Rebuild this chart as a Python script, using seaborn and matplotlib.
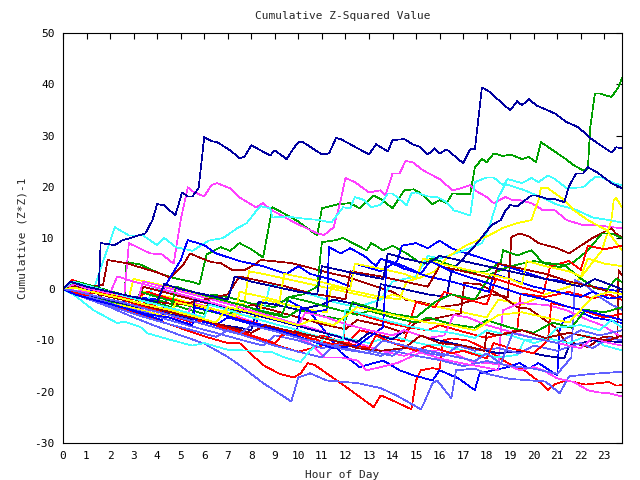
import numpy as np
import pandas as pd
import matplotlib
matplotlib.use("Agg")
import matplotlib.pyplot as plt
import seaborn as sns

# ---- data: (hour, cumulative value) vertices ----
red_1 = [(0,0),(1,-1.5),(2,-3),(3,-4.5),(4,-6),(5,-7.6),(6,-9.2),(7,-10.5),(7.5,-10.5),(8.5,-14.8),(9.2,-16.5),(9.8,-17.2),(10.1,-16.4),(10.4,-14.4),(10.7,-14.8),(12.1,-19.3),(13.2,-23.0),(13.5,-20.7),(14.0,-21.7),(14.8,-23.4),(15.0,-17.8),(15.2,-15.8),(15.7,-15.4),(16.0,-15.6),(16.15,-10.0),(16.5,-9.6),(17.2,-10.0),(17.9,-11.5),(18.9,-14.4),(19.6,-15.8),(20.3,-18.3),(20.6,-19.7),(20.9,-18.5),(21.4,-17.8),(22.2,-18.6),(23.2,-18.1),(23.5,-18.8),(23.75,-18.7)]
red_2 = [(0,0),(0.4,1.8),(1,0.8),(2,-0.5),(3,-1.8),(3.5,-2.5),(4,-3.5),(5,-4.8),(6,-6.3),(7,-7.8),(8,-9.2),(9,-10.8),(10,-12.2),(11,-11.0),(11.9,-10.5),(12.05,-4.1),(13,-5.5),(14,-6.8),(14.8,-7.5),(15.5,-8.0),(16,-7.0),(17,-8.3),(18,-9.5),(19.3,-8.0),(19.45,-0.8),(20.5,-1.5),(21.5,-0.5),(22.5,-1.8),(23.2,-1.0),(23.75,-2.1)]
red_3 = [(0,0),(0.5,1.0),(1,0.2),(2,-1.2),(3,-2.0),(3.6,-0.5),(4.5,-1.8),(5.5,-3.0),(6.5,-4.5),(7.5,-5.8),(8.5,-7.0),(9.5,-8.2),(10.5,-9.5),(11.5,-10.8),(12,-11.0),(12.6,-8.0),(13.5,-9.0),(14.5,-10.2),(14.85,-4.7),(15.0,-2.5),(15.8,-3.5),(16.2,-0.5),(17,-1.8),(18,-3.0),(18.4,2.0),(19.4,0.5),(20.4,-0.8),(20.7,4.5),(21.5,5.5),(22,3.8),(22.3,8.5),(23,7.8),(23.75,8.5)]
red_4 = [(0,0),(1,-1.2),(1.5,-0.5),(2.5,-2.0),(3.5,-3.5),(4.5,-5.0),(5.5,-6.5),(6,-6.0),(7,-7.5),(8,-9.0),(9,-10.5),(9.3,-9.0),(10,-8.0),(10.5,-10),(11,-9),(12,-10.5),(13,-11.5),(13.3,-9),(14,-10.5),(15,-12),(15.5,-11),(16.5,-12.5),(17,-12),(18,-13.5),(18.3,-10.5),(19,-11.5),(20,-12.5),(20.6,-10),(20.75,-2.7),(22,-4),(23,-5.5),(23.75,-4.8)]

green_1 = [(0,0),(1,-1.0),(2,-2.0),(2.6,-2.6),(2.7,5.3),(3.3,4.8),(4.0,3.3),(4.6,2.3),(5.4,1.5),(5.8,1.0),(6.1,6.8),(6.7,8.2),(7.1,7.5),(7.5,9.0),(8.0,7.8),(8.5,6.2),(8.9,16.0),(9.5,14.5),(10.0,13.2),(10.8,10.5),(11.0,15.8),(11.7,16.6),(12.2,16.8),(12.6,15.8),(13.2,18.3),(13.5,17.6),(14.0,15.8),(14.5,19.3),(14.9,19.5),(15.2,18.7),(15.7,16.6),(16.0,17.4),(16.3,16.8),(16.55,18.7),(17.3,18.5),(17.5,23.8),(17.8,25.4),(18.0,24.8),(18.3,26.5),(18.7,26.0),(19.0,26.3),(19.5,25.4),(19.8,25.8),(20.1,24.8),(20.3,28.7),(20.5,28.1),(21.3,25.6),(21.7,24.2),(22.1,23.2),(22.3,23.6),(22.4,31.6),(22.6,38.2),(22.8,38.2),(23.3,37.5),(23.6,39.4),(23.75,41.2)]
green_2 = [(0,0),(0.5,0.8),(1.5,-0.5),(2.5,-1.8),(3.5,-3.0),(4.0,-2.0),(5.0,-3.5),(6.0,-4.8),(6.3,-1.0),(7.0,-1.5),(8.0,-2.8),(9.0,-3.5),(9.6,-1.5),(10.2,-1.0),(10.8,0.5),(11.0,9.2),(11.5,9.5),(11.9,10.0),(12.9,7.6),(13.1,9.0),(13.6,7.6),(14.0,8.5),(14.6,7.0),(15.3,4.7),(15.6,6.0),(16.0,5.5),(16.6,4.5),(17.3,3.3),(18.0,3.5),(18.6,5.3),(18.7,7.6),(19.3,6.6),(19.9,7.6),(20.4,5.1),(21.1,4.3),(21.7,5.3),(22.3,7.6),(22.9,10.9),(23.3,10.9),(23.75,10.0)]
green_3 = [(0,0),(1,-1.2),(2,-2.4),(3,-3.2),(3.3,-0.5),(4,-1.5),(5,-2.8),(6,-4.0),(7,-5.2),(7.6,-3.0),(8.5,-4.5),(9.5,-5.5),(10,-4.0),(11,-5.2),(12,-6.0),(12.3,-2.5),(13,-3.5),(14,-4.8),(15,-5.5),(15.8,-2.5),(16.5,-1.0),(17.5,-2.0),(18.2,3.0),(19.0,4.5),(20,5.5),(21.3,4.7),(22,2.1),(22.6,0.2),(23.1,-0.2),(23.5,2.1),(23.75,1.4)]
green_4 = [(0,0),(0.6,1.5),(1.5,0.3),(2.5,-1.0),(3.5,-2.2),(4.6,-3.5),(4.8,0.5),(5.5,-0.5),(6.5,-1.8),(7.5,-3.0),(8.5,-4.3),(9.3,-5.0),(9.6,-1.5),(10.5,-2.5),(11.5,-3.8),(12.5,-5.0),(13,-4.2),(14,-5.5),(15,-6.5),(15.5,-5.5),(16.5,-6.8),(17.5,-7.5),(18,-6),(19,-7.5),(20,-8.5),(20.8,-6.5),(21.6,-7.5),(22.2,-4.0),(23,-4.5),(23.75,-3.5)]

blue_1 = [(0,0),(0.5,-0.8),(1.5,-2.0),(2.5,-3.5),(3.5,-5.0),(4.2,-6.0),(4.4,-1.5),(5.5,-3.0),(6.5,-4.5),(7.5,-6.0),(8.2,-7.0),(8.4,-2.5),(9.0,-3.0),(9.5,-2.0),(10.5,-4.5),(11.1,-8.0),(11.8,-12.3),(12.6,-15.2),(13.6,-13.9),(14.3,-15.8),(14.9,-16.8),(15.7,-17.8),(16.0,-15.8),(16.8,-17.4),(17.5,-19.7),(17.7,-16.4),(18.9,-15.2),(19.4,-14.4),(19.8,-15.5),(20.2,-14.4),(21.0,-16.8),(21.1,-8.0),(21.3,-5.7),(22,-4.5),(22.5,-5.5),(23.2,-6.0),(23.75,-6.6)]
blue_2 = [(0,0),(0.5,-0.5),(1.5,-1.5),(2.5,-2.5),(3,-1.5),(4,-2.0),(5.0,5.7),(5.3,9.6),(6.0,8.6),(6.5,7.0),(7.5,5.5),(8.5,4.5),(9.5,3.0),(10.0,4.5),(10.5,3.0),(11.5,1.8),(12.2,0.5),(12.4,5.0),(13.5,3.5),(14.2,5.5),(14.4,8.5),(15.0,9.0),(15.5,8.0),(16.0,9.5),(16.5,8.0),(17.5,6.5),(18.5,5.0),(19.5,3.5),(20.5,2.0),(21.5,1.5),(22.5,0.5),(23.75,-0.5)]
blue_3 = [(0,0),(0.5,0.5),(1.5,-0.8),(2.5,-2.0),(3.5,-3.2),(4.5,-4.5),(5.5,-5.8),(6.5,-7.0),(7.0,-5.5),(8,-6.8),(9,-8.0),(9.9,-9.2),(10.1,-3.5),(10.6,-4.5),(11.2,-4.0),(11.3,8.2),(11.8,7.0),(12.2,8.0),(12.8,6.5),(13.3,4.5),(13.5,6.0),(14.5,4.0),(15.5,2.5),(16.5,1.5),(17.3,0.5),(18.1,-0.5),(18.3,3.0),(19,2.0),(20,0.5),(21,-0.5),(22,-1.5),(22.5,-0.5),(23.2,-1.8),(23.75,-1.5)]
blue_4 = [(0,0),(0.5,-1),(1.5,-2.3),(2.5,-3.5),(3.5,-4.8),(4.5,-5.5),(5.5,-7.0),(5.6,-3.5),(6.5,-4.5),(7.5,-6.0),(8.5,-7.0),(9.5,-8.5),(10.5,-10.0),(11.5,-11.5),(12.5,-11.0),(13.6,-7.4),(13.75,5.7),(14.5,4.5),(15.2,3.0),(15.6,5.5),(16.5,3.5),(17.5,2.0),(18.5,0.5),(19.5,-1.0),(20.5,-2.0),(21.5,-3.5),(22.5,-4.5),(23.75,-6.0)]

magenta_1 = [(0,0),(1,-0.5),(2.0,-1.2),(2.6,-1.5),(2.8,9.0),(3.7,7.0),(4.2,6.8),(4.7,5.0),(5.0,13.5),(5.3,19.9),(5.5,19.1),(6.0,18.1),(6.3,20.3),(6.55,20.7),(7.1,19.7),(7.5,17.9),(8.2,16.0),(8.5,16.8),(8.8,15.6),(9.8,13.1),(10.8,10.9),(11.1,10.6),(11.5,12.1),(11.8,17.4),(12.0,21.7),(12.4,20.9),(13.0,18.9),(13.5,19.3),(13.7,18.3),(14.0,22.6),(14.3,22.6),(14.55,25.0),(14.85,24.8),(15.3,23.2),(16.0,21.5),(16.55,19.3),(16.9,19.7),(17.3,20.3),(17.5,19.3),(18.0,18.0),(18.3,16.8),(18.8,18.0),(19.1,17.4),(19.4,17.4),(19.9,16.8),(20.4,15.4),(20.9,15.4),(21.4,13.5),(22.1,12.5),(22.6,12.5),(23.75,11.9)]
magenta_2 = [(0,0),(0.5,-0.5),(1.5,-1.8),(2.5,-3.0),(3.5,-4.2),(4.5,-5.5),(5.2,-6.0),(5.5,-2.5),(6.5,-4.0),(7.5,-5.5),(8.5,-7.0),(9.5,-8.5),(10.5,-10.5),(11.1,-13.3),(11.8,-13.3),(12.5,-13.9),(12.9,-15.8),(13.5,-15.2),(14.2,-14.4),(15.1,-12.5),(16.0,-11.9),(16.6,-12.5),(17.4,-14.2),(18.0,-14.4),(18.9,-14.8),(19.4,-15.8),(20.0,-15.2),(20.4,-15.8),(21.0,-17.4),(21.7,-18.1),(22.3,-19.7),(22.7,-20.1),(23.2,-20.3),(23.75,-20.9)]
magenta_3 = [(0,0),(0.6,1.2),(1.5,0.0),(2.5,-1.2),(3.2,-2.0),(3.4,1.5),(4.5,0.2),(5.5,-1.0),(6.5,-2.2),(7.5,-3.5),(8.5,-4.8),(9.5,-6.2),(10.5,-7.5),(11.5,-9.0),(12.5,-10.5),(13.5,-12.0),(14.5,-13.0),(15.0,-12.0),(16.0,-13.5),(17.0,-14.5),(18.0,-15.3),(18.5,-15.8),(18.6,-8.0),(18.7,-4.1),(19.4,-2.7),(20.6,-3.1),(21.4,-4.1),(22.3,-6.0),(22.9,-7.0),(23.75,-9.4)]
magenta_4 = [(0,0),(0.5,1.0),(1.0,0.2),(2.0,-0.8),(2.3,2.5),(3,1.5),(4,0.3),(5,-1.0),(6,-2.2),(7,-3.5),(8,-4.5),(9,-5.8),(10,-7.0),(10.3,-4.5),(11.2,-5.5),(12,-6.8),(13,-8.0),(14,-9.0),(14.5,-8.0),(15.5,-9.5),(16.2,-9.0),(16.6,-5.0),(17.2,-5.5),(18,-7.0),(19,-8.3),(20,-9.5),(21,-10.5),(22,-11.5),(22.5,-9.5),(23.2,-10.5),(23.75,-11.0)]

cyan_1 = [(0,0),(0.5,-0.8),(1.2,-1.5),(1.6,4.0),(2.2,12.1),(2.8,10.5),(3.4,10.5),(4.0,8.6),(4.3,10.0),(4.8,8.2),(5.5,7.5),(6.2,9.5),(6.8,10.0),(7.4,11.9),(7.8,12.9),(8.3,15.8),(8.4,16.2),(8.8,15.8),(8.9,14.0),(9.5,14.2),(10.2,13.8),(10.9,13.5),(11.4,13.0),(11.9,16.0),(12.2,15.8),(12.4,18.0),(12.8,17.4),(13.1,16.0),(13.5,16.5),(13.8,18.7),(14.0,18.7),(14.6,16.4),(14.8,18.7),(15.0,18.9),(15.5,18.1),(15.9,18.0),(16.3,17.0),(16.6,15.4),(16.9,15.0),(17.3,14.4),(17.5,20.9),(18.0,21.8),(18.3,21.8),(18.7,20.3),(18.9,21.5),(19.5,20.7),(19.9,21.7),(20.2,20.9),(20.6,22.2),(20.9,21.5),(21.4,19.7),(22.1,19.9),(22.6,21.9),(22.9,21.8),(23.4,20.7),(23.75,20.3)]
cyan_2 = [(0,0),(0.5,-1),(1.5,-2.3),(2.5,-3.5),(3.5,-4.5),(3.8,0.5),(4.5,-0.5),(5.5,-1.8),(6.5,-3.0),(7.5,-4.0),(8.5,-5.0),(8.8,1.0),(9.5,0.5),(10.5,-1.0),(11.5,-2.5),(12.5,-3.5),(13.5,-2.0),(14.0,1.5),(15,2.5),(15.5,6.5),(16,6),(17,7.5),(17.8,9.0),(18.1,12.0),(18.5,18.0),(18.8,20.5),(19.5,19.5),(20.3,18),(21,16.5),(21.8,15.5),(22.5,14.0),(23.2,13.5),(23.75,13.0)]
cyan_3 = [(0,0),(0.5,-1.2),(1.3,-4.1),(2.3,-6.6),(2.6,-6.3),(3.3,-7.4),(3.6,-8.6),(4.5,-9.8),(5.5,-11.0),(6.0,-10.5),(7.0,-11.8),(8.0,-12.0),(8.9,-12.3),(9.4,-13.3),(10.1,-14.2),(10.5,-11.9),(10.9,-10.5),(11.3,-8.6),(12,-9.5),(13,-10.5),(13.5,-9.8),(14.2,-9.4),(14.9,-10.3),(15.5,-10.9),(16,-10.9),(16.6,-11.5),(17.5,-12.5),(18.5,-13.3),(19.3,-12.8),(19.6,-10.0),(20.5,-9.5),(21.5,-10.5),(22.3,-9.0),(23,-11.0),(23.75,-11.9)]
cyan_4 = [(0,0),(0.4,1.5),(1.2,0.5),(2,-0.5),(3,-1.8),(4,-3.0),(5,-4.2),(6,-5.5),(6.2,-3.0),(7,-4.0),(8,-5.5),(9,-6.8),(10,-8.0),(11,-9.5),(11.9,-10.0),(12.0,-4.0),(12.5,-4.5),(13.5,-5.8),(14.5,-7.0),(15.5,-8.0),(16.5,-8.5),(17.5,-9.5),(18.0,-8.0),(19.0,-9.0),(20.0,-10.5),(20.5,-9.8),(21.0,-7.5),(22.0,-7.0),(22.8,-8.0),(23.3,-6.0),(23.75,-7.5)]

darkred_1 = [(0,0),(0.5,1.5),(1.0,0.5),(1.7,0.8),(1.9,5.7),(2.7,5.1),(3.4,4.1),(4.0,3.3),(4.55,2.3),(5.1,4.7),(5.4,7.0),(5.8,6.2),(6.3,5.3),(6.7,5.1),(7.2,3.7),(7.7,3.7),(8.1,4.7),(8.4,5.7),(8.9,5.5),(9.7,5.1),(10.4,4.3),(11.2,3.3),(12.0,2.5),(13.0,1.0),(14.0,-0.5),(14.6,-2.1),(15.2,-2.5),(16.0,-3.5),(16.8,-3.0),(17.5,-2.0),(18.2,-1.0),(18.9,-1.5),(19.05,10.2),(19.4,10.9),(19.8,10.3),(20.2,9.0),(21.0,8.0),(21.5,7.0),(22.0,8.5),(22.5,10.0),(23.3,11.9),(23.5,10.8),(23.75,10.2)]
darkred_2 = [(0,0),(0.5,0.8),(1.5,-0.5),(2.5,-1.8),(3.2,-2.8),(3.4,0.5),(4.5,-0.8),(5.5,-2.0),(6.5,-3.2),(7.5,-4.5),(8,-3.0),(9,-4.2),(10,-5.5),(11,-6.8),(12,-7.8),(12.5,-6.0),(13.5,-7.0),(14.5,-8.5),(15,-6.5),(16,-5.5),(16.9,-4.7),(17.05,1.2),(17.7,1.0),(18.6,-1.2),(19.3,-3.5),(19.8,-3.8),(20.2,-5.1),(20.9,-7.4),(21.4,-10.5),(21.7,-10.5),(22.3,-11.3),(22.9,-9.4),(23.2,-9.2),(23.55,-9.6),(23.6,3.7),(23.75,2.7)]
darkred_3 = [(0,0),(0.5,-0.6),(1.5,-1.5),(2.0,-0.5),(3.0,-1.5),(4.0,-2.5),(5.0,-3.0),(6.0,-2.0),(7.0,-1.0),(7.5,2.5),(8.5,1.5),(9.5,0.5),(10.5,-0.8),(11.5,-1.5),(12.0,-2.0),(12.2,3.5),(13.5,2.5),(14.5,1.5),(15.5,0.5),(16.0,4.5),(16.5,4.0),(17.5,3.0),(18.3,2.0),(18.5,5.0),(19.5,4.0),(20.5,3.0),(21.5,1.5),(22.5,0.5),(23.2,-0.5),(23.75,-1.0)]
darkred_4 = [(0,0),(0.5,0.5),(1.2,-0.5),(2,-1.5),(3,-2.5),(4,-3.8),(5,-5.0),(6,-6.0),(7,-7.3),(8,-8.5),(8.6,-7.0),(9.5,-8.0),(10.5,-9.0),(11.5,-10.0),(12.5,-11.5),(13.5,-12.0),(14.5,-11.5),(15.2,-9.0),(16.0,-10.5),(17.0,-11.0),(17.9,-12.0),(18.0,-8.5),(18.5,-9.0),(19.5,-8.0),(20.5,-9.5),(21.5,-8.5),(22.5,-9.5),(23.2,-10.0),(23.75,-9.0)]

yellow_1 = [(0,0),(0.5,1.0),(1.0,0.3),(2,-0.8),(2.8,-1.5),(3.0,2.0),(4,1.0),(5,-0.2),(6,-1.3),(7,-2.5),(7.7,-3.0),(7.9,3.5),(8.5,3.0),(9.5,2.0),(10.5,1.0),(11.5,0.0),(12.5,-1.0),(13.5,-2.0),(14,-1.0),(15,-2.5),(16,-3.5),(17,-4.5),(18,-5.5),(18.5,-2.0),(19.5,-3.0),(20.5,-1.0),(21.5,0.5),(22,2.3),(22.9,7.6),(23.3,13.5),(23.4,17.4),(23.5,17.8),(23.75,16.0)]
yellow_2 = [(0,0),(0.5,-0.8),(1.5,-2),(2.5,-3.2),(3.2,-3.8),(3.4,-0.5),(4.5,-1.5),(5.5,-2.8),(6.5,-4.0),(7.5,-5.0),(8.3,-5.5),(8.5,-2.0),(9.5,-3.0),(10.5,-4.0),(11.2,-4.5),(11.4,0.5),(12.5,-0.5),(13.5,-1.5),(14.3,-2.0),(14.6,1.5),(15.2,2.3),(15.8,3.5),(16.4,6.5),(17.1,8.5),(18.1,10.5),(18.7,12.0),(19.3,12.9),(19.9,13.5),(20.2,17.4),(20.3,19.7),(20.6,19.7),(21.3,17.4),(21.7,15.4),(22.3,13.5),(23.1,11.5),(23.75,7.6)]
yellow_3 = [(0,0),(0.5,-1),(1.5,-2.2),(2.5,-3.3),(3.5,-4.3),(4.5,-5.5),(4.8,-2.5),(5.5,-3.2),(6.5,-4.5),(7.3,-5.2),(7.5,-0.5),(8.5,-1.5),(9.2,-2.3),(9.4,3.0),(10.5,2.0),(11.5,0.8),(12.2,0.0),(12.4,5.0),(13.5,4.0),(14.5,3.0),(15,2.0),(15.3,6.0),(16,5.0),(17,4.0),(18,3.0),(19,2.0),(19.5,1.0),(19.7,5.5),(20.5,4.5),(21.5,3.5),(22,2.5),(22.3,6.0),(23,5.0),(23.75,4.5)]
yellow_4 = [(0,0),(0.5,0.3),(1.5,-0.8),(2.5,-1.8),(3.5,-3.0),(4.5,-4.0),(5.5,-5.2),(6.5,-6.5),(7.0,-3.5),(8,-4.5),(9,-5.8),(10,-7.0),(10.6,-6.0),(11.5,-7.0),(12.5,-3.5),(13.5,-4.5),(14.5,-5.5),(15.5,-6.5),(16.5,-7.0),(17.5,-8.0),(18.5,-5.0),(19.5,-4.5),(20.5,-5.5),(21.5,-6.5),(22.5,-1.5),(23.2,-0.5),(23.75,-1.0)]

navy_1 = [(0,0),(0.5,-0.5),(1.0,-1.2),(1.5,-1.5),(1.6,9.0),(2.2,8.6),(2.5,9.5),(3.5,10.9),(3.8,13.5),(4.0,16.6),(4.3,16.4),(4.77,14.4),(5.06,18.9),(5.3,18.1),(5.5,18.1),(5.76,19.7),(6.0,29.7),(6.3,28.9),(6.55,28.7),(7.1,27.1),(7.5,25.6),(7.7,25.8),(8.0,28.1),(8.8,26.1),(9.0,27.1),(9.5,25.4),(9.8,27.5),(10.0,28.7),(10.2,28.7),(11.0,26.3),(11.3,26.5),(11.6,29.5),(11.8,29.3),(13.0,26.3),(13.3,28.3),(13.8,26.9),(14.0,29.1),(14.5,29.3),(14.85,28.3),(15.2,27.7),(15.5,26.3),(15.8,27.5),(16.0,26.5),(16.3,27.3),(17.0,24.6),(17.3,27.3),(17.5,27.3),(17.8,39.4),(18.1,38.6),(19.0,34.9),(19.3,36.7),(19.5,35.9),(19.8,37.1),(20.1,35.9),(20.9,34.3),(21.4,32.6),(21.9,31.6),(22.4,29.5),(22.9,27.9),(23.3,26.7),(23.5,27.7),(23.75,27.5)]
navy_2 = [(0,0),(0.5,-0.8),(1.5,-1.8),(2.5,-2.8),(3.5,-3.8),(4.5,-4.8),(5.5,-5.8),(6.5,-6.8),(7.5,-7.5),(8.0,-8.0),(8.3,-2.5),(9.0,-3.0),(10,-4.0),(11,-3.0),(11.5,-2.0),(12.5,-3.0),(13.3,-4.0),(13.5,1.0),(14.5,0.0),(15.5,-1.0),(16.3,-1.5),(16.5,3.5),(17.0,6.0),(17.6,9.0),(18.2,12.5),(18.6,13.5),(18.8,15.4),(19.0,16.4),(19.3,16.2),(19.9,18.3),(20.1,18.3),(20.6,17.6),(20.9,17.6),(21.3,17.0),(21.5,20.1),(21.8,22.6),(22.1,22.6),(22.3,23.8),(22.7,22.8),(23.3,20.7),(23.75,19.7)]
navy_3 = [(0,0),(0.5,-0.5),(1.5,-1.6),(2.5,-2.7),(3.5,-3.8),(4.5,-5.0),(5.5,-6.0),(5.6,-2.0),(6.5,-3.0),(7.5,-4.2),(8.5,-5.4),(9.5,-6.6),(10.5,-7.8),(11.5,-9.0),(12.5,-10.3),(13.0,-8.5),(14.0,-9.8),(14.5,-8.0),(15.5,-9.5),(16.5,-10.5),(17.5,-11.5),(18.5,-12.5),(19.5,-12.0),(20.5,-13.0),(21.3,-13.5),(21.5,-11.0),(22.5,-10.0),(23.75,-10.3)]
navy_4 = [(0,0),(0.3,1.5),(1.0,0.5),(2,-0.5),(3,-1.5),(4,-2.5),(4.3,1.0),(5,0),(6,-1.0),(7,-2.0),(7.3,2.5),(8,1.5),(9,0.5),(10,-0.5),(10.8,-1.0),(11.0,4.5),(12,3.5),(13,2.5),(13.6,2.0),(13.8,7.0),(14.5,6.0),(15.5,5.0),(16,6.5),(17,5.5),(18,4.5),(19,3.5),(20,2.5),(21,1.5),(22,0.5),(22.6,2.0),(23.2,1.0),(23.75,0.0)]

slate_1 = [(0,0),(1,-1.8),(2,-3.5),(3,-5.5),(4,-7.3),(5,-9),(6,-10.6),(7,-13.2),(7.5,-14.8),(8.5,-18.3),(9.7,-21.9),(10.0,-17.2),(10.5,-16.4),(11.2,-17.8),(12.5,-18.3),(13.5,-19.3),(14.2,-20.8),(15.2,-23.4),(15.3,-22.6),(15.7,-18.3),(15.9,-17.8),(16.5,-21.3),(16.7,-15.8),(17.5,-15.5),(18.0,-16.5),(19.0,-17.5),(20.5,-18.0),(21.1,-20.3),(21.5,-17.0),(22.5,-16.5),(23.75,-16.1)]
slate_2 = [(0,0),(0.5,-1.0),(1.5,-2.5),(2.5,-4.0),(3.5,-5.5),(4.5,-6.8),(5.5,-8.0),(6.5,-9.3),(7.0,-8.0),(8.0,-9.5),(9.0,-11.0),(10.0,-12.2),(11.0,-13.3),(11.5,-11.0),(12.5,-12.0),(13.5,-13.0),(14.0,-12.0),(15,-13.0),(16,-13.8),(17,-15.0),(18,-14.0),(19,-15.0),(20,-15.5),(21,-16.5),(21.6,-13.3),(21.75,1.8),(22.2,0.8),(22.8,-1.5),(23.3,-3.0),(23.75,-4.0)]
slate_3 = [(0,0),(0.5,-0.8),(1.5,-2.0),(2.5,-3.5),(3.5,-4.5),(4.5,-6.0),(5.5,-7.3),(6.5,-8.5),(7.5,-9.8),(8.5,-11.0),(9.0,-9.0),(10.0,-10.0),(11.0,-11.5),(12.0,-10.5),(13,-12.0),(14,-13.0),(14.6,-11.0),(15.5,-12.5),(16.2,-13.0),(16.8,-11.0),(17.5,-12.0),(18.5,-11.5),(19.4,-12.5),(20,-11.0),(21,-12.0),(22,-10.5),(22.5,-11.5),(23.2,-9.5),(23.75,-10.0)]
slate_4 = [(0,0),(0.5,-0.3),(1.5,-1.5),(2.5,-2.5),(3.5,-3.8),(4.5,-5.0),(5.5,-6.2),(6.5,-7.5),(7.5,-8.8),(8.0,-7.0),(9.0,-8.2),(10.0,-9.5),(11.0,-10.5),(12.0,-11.8),(13.0,-12.5),(13.6,-10.0),(14.5,-11.0),(15.5,-12.0),(16.5,-13.0),(17.5,-14.0),(18.0,-12.5),(18.6,-14.5),(19.1,-8.6),(20.0,-9.5),(21.0,-10.5),(22.0,-8.0),(22.8,-9.0),(23.75,-8.0)]

colors = {"red": "#ff0000", "green": "#00a000", "blue": "#0000ff", "magenta": "#ff40ff",
          "cyan": "#40ffff", "darkred": "#a00000", "yellow": "#ffff00", "navy": "#0000a0",
          "slate": "#6060ff"}
groups = {
    "red": [red_1, red_2, red_3, red_4],
    "green": [green_1, green_2, green_3, green_4],
    "blue": [blue_1, blue_2, blue_3, blue_4],
    "magenta": [magenta_1, magenta_2, magenta_3, magenta_4],
    "cyan": [cyan_1, cyan_2, cyan_3, cyan_4],
    "darkred": [darkred_1, darkred_2, darkred_3, darkred_4],
    "yellow": [yellow_1, yellow_2, yellow_3, yellow_4],
    "navy": [navy_1, navy_2, navy_3, navy_4],
    "slate": [slate_1, slate_2, slate_3, slate_4],
}
x_ticks = list(range(0, 24))
y_ticks = list(range(-30, 51, 10))

rows = []
palette = {}
order = []
for k in range(4):
    for cname, series_list in groups.items():
        name = f"{cname}_{k+1}"
        palette[name] = colors[cname]
        order.append(name)
        for h, v in series_list[k]:
            rows.append({"hour": h, "value": v, "series": name})
df = pd.DataFrame(rows)

sns.set_style("white")
plt.rcParams["font.family"] = ["DejaVu Sans Mono"]

fig = plt.figure(figsize=(6.4, 4.8), dpi=100)
ax = fig.add_axes([63/640, 1 - 443/480, (622 - 63)/640, (443 - 33)/480])

for name in order:
    sub = df[df["series"] == name]
    sns.lineplot(data=sub, x="hour", y="value", color=palette[name], ax=ax,
                 estimator=None, sort=False, linewidth=0.5, antialiased=False,
                 legend=False)

ax.set_xlim(0, 23.75)
ax.set_ylim(-30, 50)
ax.set_xticks(x_ticks)
ax.set_yticks(y_ticks)
ax.set_xticklabels([str(t) for t in x_ticks])
ax.set_yticklabels([str(t) for t in y_ticks])
ax.tick_params(direction="in", length=4, width=0.8, top=True, right=True,
               labelsize=8, colors="black", pad=6)
for s in ax.spines.values():
    s.set_visible(True)
    s.set_color("black")
    s.set_linewidth(0.8)
ax.set_xlabel("Hour of Day", fontsize=8, labelpad=6)
ax.set_ylabel("Cumulative (Z*Z)-1", fontsize=8, labelpad=5)
ax.set_title("Cumulative Z-Squared Value", fontsize=8, pad=10)
ax.grid(False)

fig.savefig("out.png", dpi=100)
